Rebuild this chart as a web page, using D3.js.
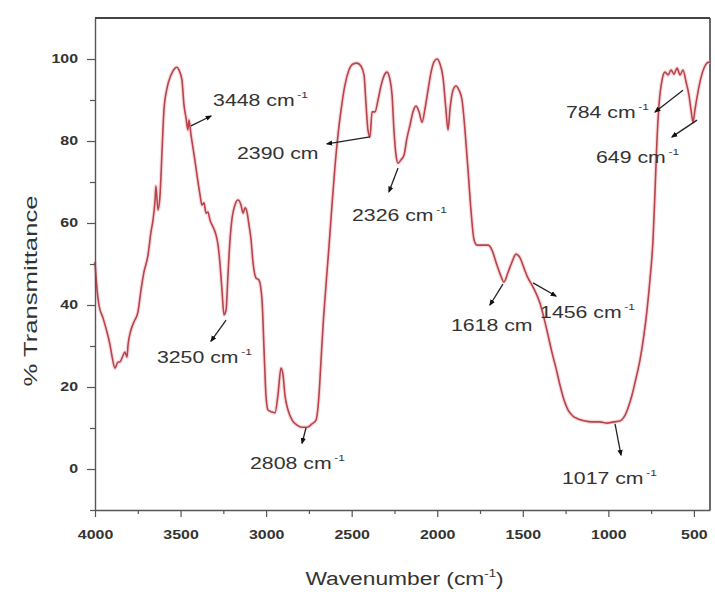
<!DOCTYPE html>
<html>
<head>
<meta charset="utf-8">
<script src="https://cdn.jsdelivr.net/npm/d3@7"></script>
<style>
  html, body { margin: 0; padding: 0; background: #fff; }
  svg { display: block; }
  text { font-family: "Liberation Sans", Arial, sans-serif; fill: #333; }
</style>
</head>
<body>
<svg id="chart" width="715" height="592"></svg>
<script>
// FTIR spectrum: wavenumber (cm-1) and % transmittance
const wavenumber = [
  4000, 3988, 3977, 3953, 3930, 3912, 3901, 3883, 3866, 3854, 3842, 3825, 3813, 3807, 3790, 3772,
  3749, 3731, 3714, 3690, 3673, 3661, 3649, 3644, 3632, 3620, 3608, 3597, 3579, 3556, 3532, 3521,
  3509, 3492, 3480, 3468, 3457, 3451, 3439, 3421, 3404, 3386, 3375, 3363, 3351, 3340, 3328, 3310,
  3293, 3281, 3269, 3258, 3246, 3234, 3223, 3211, 3199, 3182, 3164, 3147, 3135, 3123, 3112, 3100,
  3088, 3077, 3059, 3042, 3024, 3012, 3001, 2989, 2966, 2948, 2931, 2913, 2901, 2890, 2872, 2849,
  2819, 2790, 2761, 2732, 2708, 2691, 2679, 2667, 2650, 2632, 2615, 2597, 2580, 2562, 2539, 2516,
  2492, 2469, 2446, 2428, 2416, 2405, 2393, 2381, 2364, 2346, 2329, 2311, 2294, 2276, 2264, 2253,
  2241, 2229, 2212, 2194, 2177, 2159, 2142, 2124, 2106, 2089, 2071, 2054, 2036, 2019, 2001, 1984,
  1966, 1949, 1937, 1925, 1908, 1890, 1873, 1855, 1838, 1820, 1803, 1785, 1768, 1738, 1703, 1680,
  1657, 1633, 1610, 1586, 1563, 1540, 1516, 1493, 1470, 1447, 1423, 1400, 1376, 1353, 1330, 1306,
  1283, 1259, 1236, 1207, 1177, 1136, 1096, 1049, 1008, 967, 932, 908, 885, 862, 838, 815,
  792, 774, 757, 739, 727, 716, 704, 686, 669, 651, 634, 616, 599, 581, 564, 546,
  529, 517, 505, 494, 476, 459, 441, 424, 406
];
const transmittance = [
  50.5, 43.7, 40.0, 36.8, 33.4, 30.2, 27.6, 24.6, 26.1, 26.1, 27.1, 28.5, 27.3, 30.2, 33.9, 35.9,
  38.3, 43.7, 48.0, 52.2, 57.8, 60.7, 65.6, 69.0, 63.2, 66.8, 77.8, 87.6, 92.9, 96.1, 97.8, 98.0,
  97.3, 94.9, 88.8, 85.6, 82.7, 85.1, 81.5, 76.6, 71.7, 66.8, 64.4, 64.9, 62.4, 62.7, 60.7, 59.0,
  57.1, 54.6, 49.8, 43.7, 37.6, 38.8, 47.3, 55.9, 61.2, 64.4, 65.6, 64.4, 62.4, 63.7, 62.7, 59.5,
  55.9, 50.5, 46.6, 46.1, 41.2, 29.0, 18.0, 14.4, 13.9, 13.7, 18.0, 24.6, 22.9, 18.0, 14.4, 12.0,
  10.7, 10.2, 10.2, 11.0, 12.0, 18.0, 26.6, 35.1, 44.9, 54.6, 64.4, 74.1, 81.5, 87.6, 93.7, 97.3,
  98.8, 99.0, 98.3, 96.1, 88.8, 82.7, 81.0, 87.1, 87.1, 90.0, 93.4, 95.9, 96.8, 94.9, 91.2, 82.7,
  76.6, 74.6, 75.4, 76.6, 80.7, 83.9, 87.1, 88.5, 87.1, 84.6, 88.0, 92.4, 96.8, 99.3, 100.0, 98.8,
  95.4, 87.6, 82.7, 88.0, 92.4, 93.4, 92.4, 90.0, 82.7, 72.9, 63.2, 55.9, 54.6, 54.6, 54.6, 53.4,
  50.5, 47.6, 45.6, 48.0, 50.5, 52.4, 51.5, 49.0, 46.6, 44.9, 42.9, 40.5, 36.8, 32.7, 28.5, 24.6,
  20.5, 16.8, 14.4, 12.9, 12.2, 11.7, 11.5, 11.5, 11.2, 11.5, 11.7, 12.7, 14.9, 18.0, 22.2, 26.6,
  32.7, 38.8, 46.1, 55.9, 68.0, 80.2, 88.8, 94.9, 96.8, 96.1, 97.3, 96.3, 97.8, 96.1, 97.3, 94.4,
  91.2, 87.6, 84.6, 87.6, 92.0, 95.4, 97.8, 99.0, 99.3
];

// Axis ticks
const xMajorTicks = [4000, 3500, 3000, 2500, 2000, 1500, 1000, 500];
const xMinorTicks = [3750, 3250, 2750, 2250, 1750, 1250, 750];
const yMajorTicks = [0, 20, 40, 60, 80, 100];
const yMinorTicks = [-10, 10, 30, 50, 70, 90];

// Peak annotations: label, label anchor [wavenumber, %T] (left edge, middle),
// arrow tail on the curve and arrow head near the label
const peakLabels = ["3448", "2390", "2326", "3250", "2808", "1618", "1456", "1017", "784", "649"];
const peakHasSup = [true, false, true, true, true, false, true, true, true, true];
const peakLabelPos = [[3310, 90.0], [3170, 77.1], [2498, 62.0], [3638, 27.3], [3094, 1.5],
                      [1920, 35.1], [1399, 38.3], [1271, -2.2], [1248, 87.1], [1072, 76.1]];
const peakArrowTail = [[3439, 83.7], [2393, 81.0], [2229, 73.4], [3234, 36.3], [2767, 10.0],
                       [1616, 45.1], [1440, 45.4], [961, 11.0], [564, 92.4], [482, 85.1]];
const peakArrowHead = [[3322, 86.1], [2644, 79.3], [2282, 67.6], [3322, 31.2], [2790, 6.3],
                       [1692, 40.0], [1306, 42.2], [926, 3.4], [727, 87.1], [628, 81.0]];

const svg = d3.select("#chart");
const margin = { left: 95, right: 5, top: 18, bottom: 82 };
const W = 715, H = 592;
const SX = 1.33; // horizontal stretch of the lettering

const x = d3.scaleLinear().domain([4000, 406]).range([margin.left, W - margin.right]);
const y = d3.scaleLinear().domain([-10, 110]).range([H - margin.bottom, margin.top]);

const x0 = x.range()[0], x1 = x.range()[1];
const y0 = y.range()[0], y1 = y.range()[1];

// Arrow marker
svg.append("defs").append("marker")
  .attr("id", "arrowhead")
  .attr("viewBox", "0 0 10 10")
  .attr("refX", 8).attr("refY", 5)
  .attr("markerWidth", 5).attr("markerHeight", 5)
  .attr("markerUnits", "strokeWidth")
  .attr("orient", "auto")
  .append("path").attr("d", "M0,1 L10,5 L0,9 Z").attr("fill", "#111");

// Frame: top and right edges
svg.append("line").attr("x1", x0).attr("x2", x1).attr("y1", y1).attr("y2", y1)
  .attr("stroke", "#444").attr("stroke-width", 2);
svg.append("line").attr("x1", x1).attr("x2", x1).attr("y1", y1).attr("y2", y0)
  .attr("stroke", "#444").attr("stroke-width", 1.6);

// Spectrum
const pts = wavenumber.map((w, i) => [w, transmittance[i]]);
const line = d3.line().x(d => x(d[0])).y(d => y(d[1])).curve(d3.curveMonotoneX);
svg.append("path").datum(pts)
  .attr("fill", "none").attr("stroke", "#f2c4c8").attr("stroke-width", 4).attr("opacity", 0.6)
  .attr("d", line);
svg.append("path").datum(pts)
  .attr("fill", "none").attr("stroke", "#b8434c").attr("stroke-width", 1.6)
  .attr("stroke-linejoin", "round")
  .attr("d", line);

// Bottom axis
const gx = svg.append("g").attr("transform", `translate(0,${y0})`);
gx.call(d3.axisBottom(x).tickValues(xMajorTicks).tickSize(7).tickSizeOuter(0).tickFormat(d3.format("d")));
gx.select(".domain").attr("stroke", "#555").attr("stroke-width", 1.4);
gx.selectAll(".tick line").attr("stroke", "#555").attr("stroke-width", 1.2);
gx.selectAll(".tick text")
  .attr("y", 20).attr("dy", "0.71em")
  .attr("transform", `scale(${SX},1)`)
  .style("font-size", "12px").style("font-weight", "bold").attr("fill", "#333");
const gxm = svg.append("g").attr("transform", `translate(0,${y0})`);
gxm.call(d3.axisBottom(x).tickValues(xMinorTicks).tickSize(4).tickFormat(""));
gxm.select(".domain").remove();
gxm.selectAll(".tick line").attr("stroke", "#555").attr("stroke-width", 1.2);

// Left axis
const gy = svg.append("g").attr("transform", `translate(${x0},0)`);
gy.call(d3.axisLeft(y).tickValues(yMajorTicks).tickSize(8).tickSizeOuter(0).tickFormat(d3.format("d")));
gy.select(".domain").attr("stroke", "#555").attr("stroke-width", 1.4);
gy.selectAll(".tick line").attr("stroke", "#555").attr("stroke-width", 1.2);
gy.selectAll(".tick text")
  .attr("x", -17 / SX)
  .attr("transform", `scale(${SX},1)`)
  .style("font-size", "12px").style("font-weight", "bold").attr("fill", "#333");
const gym = svg.append("g").attr("transform", `translate(${x0},0)`);
gym.call(d3.axisLeft(y).tickValues(yMinorTicks).tickSize(5).tickFormat(""));
gym.select(".domain").remove();
gym.selectAll(".tick line").attr("stroke", "#555").attr("stroke-width", 1.2);

// Axis titles
const xt = svg.append("text")
  .attr("transform", `translate(${(x0 + x1) / 2 + 2},585) scale(1.2,1)`)
  .attr("text-anchor", "middle")
  .style("font-size", "19px").attr("fill", "#333");
xt.append("tspan").text("Wavenumber (cm");
xt.append("tspan").attr("dy", -8).style("font-size", "11px").text("-1");
xt.append("tspan").attr("dy", 8).text(")");

svg.append("text")
  .attr("transform", `translate(37,291) rotate(-90) scale(1.35,1)`)
  .attr("text-anchor", "middle")
  .style("font-size", "19px").attr("fill", "#333")
  .text("% Transmittance");

// Peak annotations
const ann = svg.append("g");
peakLabels.forEach((lab, i) => {
  ann.append("line")
    .attr("x1", x(peakArrowTail[i][0])).attr("y1", y(peakArrowTail[i][1]))
    .attr("x2", x(peakArrowHead[i][0])).attr("y2", y(peakArrowHead[i][1]))
    .attr("stroke", "#222").attr("stroke-width", 1.3)
    .attr("marker-end", "url(#arrowhead)");
  const t = ann.append("text")
    .attr("transform", `translate(${x(peakLabelPos[i][0])},${y(peakLabelPos[i][1])}) scale(${SX},1)`)
    .attr("dy", "0.36em")
    .style("font-size", "16px").attr("fill", "#333");
  t.append("tspan").text(lab + " cm");
  if (peakHasSup[i]) {
    t.append("tspan").attr("dx", 2).attr("dy", -8).style("font-size", "9px").text("-1");
  }
});
</script>
</body>
</html>
